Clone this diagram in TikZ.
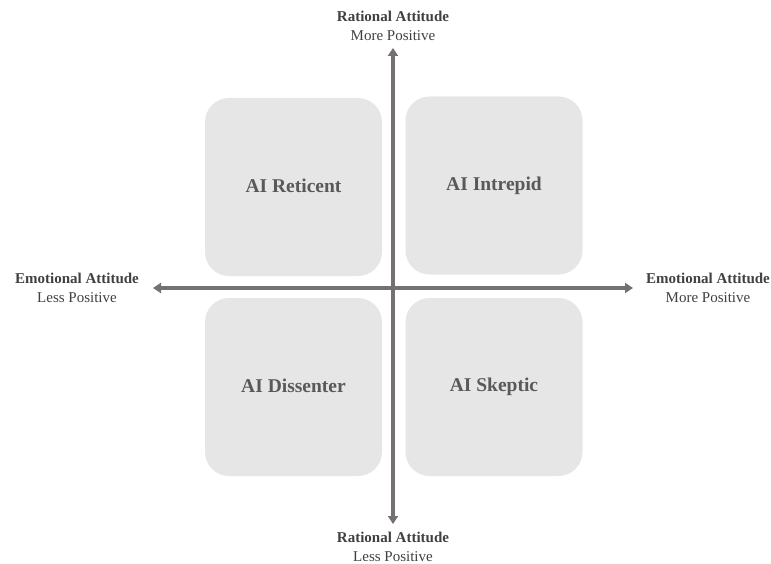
\documentclass[tikz,border=0pt]{standalone}
\usepackage{fontspec}
\setmainfont{Liberation Serif}
\usetikzlibrary{arrows.meta}
\definecolor{boxfill}{HTML}{E7E6E6}
\definecolor{axiscol}{HTML}{767171}
\definecolor{boxtext}{HTML}{595959}
\definecolor{labeltext}{HTML}{404040}
\tikzset{
  quad/.style={fill=boxfill, rounded corners=24pt, minimum width=177pt, minimum height=178pt,
    inner sep=0pt, text=boxtext, font=\fontsize{19.5}{22}\selectfont\bfseries},
  axis/.style={draw=axiscol, line width=3.6pt, -{Triangle[width=10pt,length=8pt]}},
  axlabel/.style={align=center, text=labeltext, font=\fontsize{15}{19}\selectfont, inner sep=0pt},
}
\begin{document}
\begin{tikzpicture}[x=1pt,y=-1pt]
\useasboundingbox (0,0) rectangle (771,564);
% four quadrants
\node[quad] (ret) at (293.5,187) {\raisebox{2pt}{AI Reticent}};
\node[quad] (int) at (494,185.5) {\raisebox{-1pt}{AI Intrepid}};
\node[quad] (dis) at (293.5,387) {\raisebox{2pt}{AI Dissenter}};
\node[quad] (ske) at (494,387) {AI Skeptic};
% axis ends
\coordinate (top) at (393,48);
\coordinate (bot) at (393,524);
\coordinate (lft) at (153,288);
\coordinate (rgt) at (633,288);
\coordinate (ctr) at (393,288);
\draw[axis] (ctr) -- (top);
\draw[axis] (ctr) -- (bot);
\draw[axis] (ctr) -- (lft);
\draw[axis] (ctr) -- (rgt);
% axis labels
\node[axlabel] (ltop) at (393,26) {\textbf{Rational Attitude}\\More Positive};
\node[axlabel] (lbot) at (393,547) {\textbf{Rational Attitude}\\Less Positive};
\node[axlabel] (llft) at (77,288) {\textbf{Emotional Attitude}\\Less Positive};
\node[axlabel] (lrgt) at (708,288) {\textbf{Emotional Attitude}\\More Positive};
\end{tikzpicture}
\end{document}
